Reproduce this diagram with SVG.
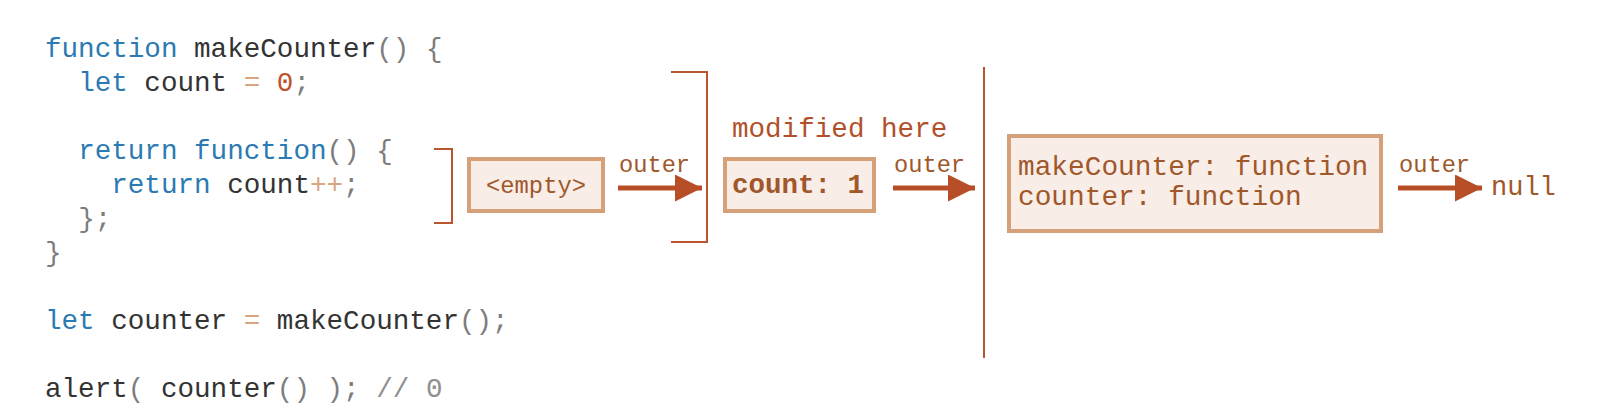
<svg xmlns="http://www.w3.org/2000/svg" width="1606" height="414" viewBox="0 0 1606 414">
<style>
.code{font-family:"Liberation Mono","DejaVu Sans Mono",monospace;font-size:27.6px;fill:#333333}
.kw{fill:#2c7ab3}
.pn{fill:#7d7d7d}
.op{fill:#d9a47f}
.nm{fill:#bd5428}
.cm{fill:#8f8f8f}
.box{fill:#f9ede7;stroke:#d6a079;stroke-width:4}
.btxt{font-family:"Liberation Mono","DejaVu Sans Mono",monospace;fill:#a0572a}
.lbl{font-family:"Liberation Mono","DejaVu Sans Mono",monospace;font-size:23.7px;fill:#a0572a}
.brk{fill:none;stroke:#bb5530;stroke-width:2}
.arr{stroke:#b84e27;stroke-width:5}
</style>
<defs>
<marker id="ah" markerUnits="userSpaceOnUse" markerWidth="27" markerHeight="27" refX="27" refY="13.5" orient="auto">
<path d="M0,0 L27,13.5 L0,27 Z" fill="#b84e27"/>
</marker>
</defs>
<rect width="1606" height="414" fill="#ffffff"/>
<g id="code">
<text class="code" xml:space="preserve" x="45" y="57"><tspan class="kw">function</tspan> makeCounter<tspan class="pn">()</tspan> <tspan class="pn">{</tspan></text>
<text class="code" xml:space="preserve" x="45" y="91">  <tspan class="kw">let</tspan> count <tspan class="op">=</tspan> <tspan class="nm">0</tspan><tspan class="pn">;</tspan></text>
<text class="code" xml:space="preserve" x="45" y="159">  <tspan class="kw">return</tspan> <tspan class="kw">function</tspan><tspan class="pn">()</tspan> <tspan class="pn">{</tspan></text>
<text class="code" xml:space="preserve" x="45" y="193">    <tspan class="kw">return</tspan> count<tspan class="op">++</tspan><tspan class="pn">;</tspan></text>
<text class="code" xml:space="preserve" x="45" y="227">  <tspan class="pn">};</tspan></text>
<text class="code" xml:space="preserve" x="45" y="261"><tspan class="pn">}</tspan></text>
<text class="code" xml:space="preserve" x="45" y="329"><tspan class="kw">let</tspan> counter <tspan class="op">=</tspan> makeCounter<tspan class="pn">();</tspan></text>
<text class="code" xml:space="preserve" x="45" y="397">alert<tspan class="pn">(</tspan> counter<tspan class="pn">()</tspan> <tspan class="pn">);</tspan> <tspan class="cm">// 0</tspan></text>
</g>
<g id="brackets">
<path class="brk" d="M434,149 H452 V223 H434"/>
<path class="brk" d="M671,72 H707 V242 H671"/>
<line class="brk" x1="984" y1="67" x2="984" y2="358"/>
</g>
<g id="node-empty">
<rect class="box" x="469" y="159" width="134" height="52"/>
<text class="btxt" x="536" y="193" font-size="23.8" text-anchor="middle">&lt;empty&gt;</text>
</g>
<g id="node-count">
<text x="732" y="137" font-family="Liberation Mono, DejaVu Sans Mono, monospace" font-size="27.6" fill="#b3502a">modified here</text>
<rect class="box" x="725" y="159" width="149" height="52"/>
<text class="btxt" x="732" y="193" font-size="27.5" font-weight="bold">count: 1</text>
</g>
<g id="node-global">
<rect class="box" x="1009" y="136" width="372" height="95"/>
<text class="btxt" x="1018" y="175" font-size="27.8">makeCounter: function</text>
<text class="btxt" x="1018" y="205" font-size="27.8">counter: function</text>
</g>
<g id="node-null">
<text class="btxt" x="1491" y="195" font-size="27">null</text>
</g>
<g id="connectors">
<line class="arr" x1="618" y1="188" x2="702" y2="188" marker-end="url(#ah)"/>
<text class="lbl" x="619" y="172">outer</text>
<line class="arr" x1="893" y1="188" x2="975" y2="188" marker-end="url(#ah)"/>
<text class="lbl" x="894" y="172">outer</text>
<line class="arr" x1="1398" y1="188" x2="1482" y2="188" marker-end="url(#ah)"/>
<text class="lbl" x="1399" y="172">outer</text>
</g>
</svg>
